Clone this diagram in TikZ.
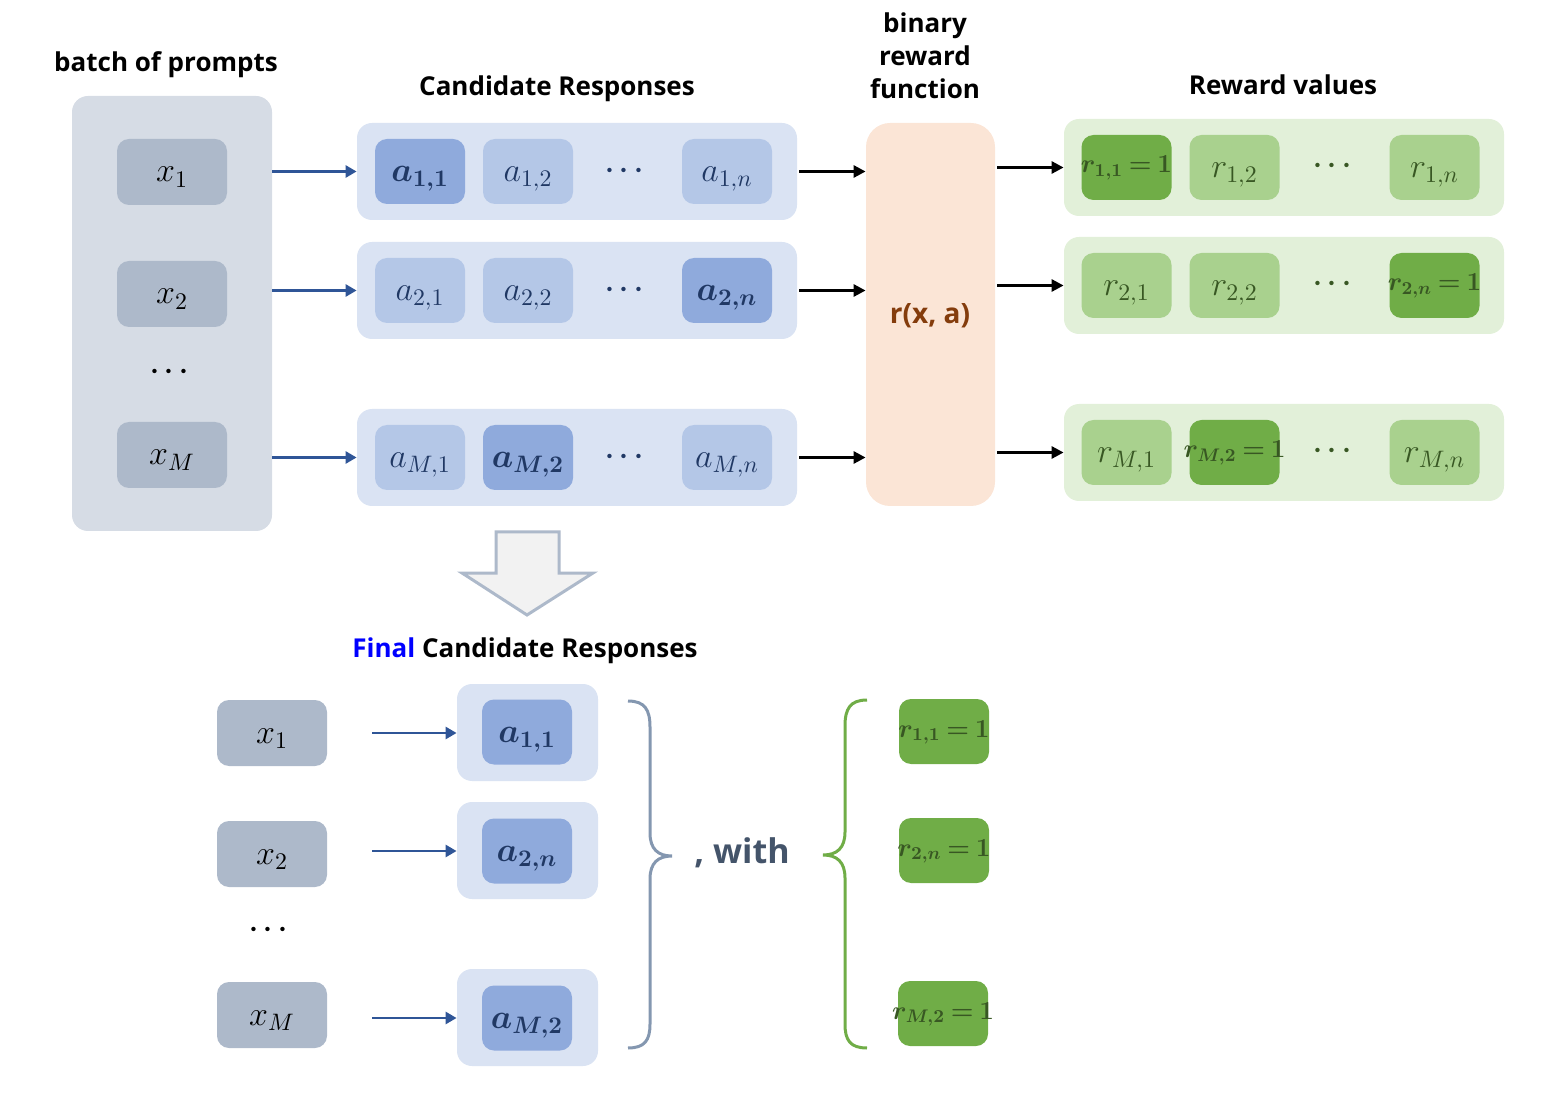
\RequirePackage{fix-cm}
\documentclass[tikz,border=0pt]{standalone}
\usepackage{amsmath,bm}
\usepackage[no-math]{fontspec}
\newfontfamily\labfont{Open Sans}
\usetikzlibrary{arrows.meta}
\definecolor{promptbg}{HTML}{D6DCE5}
\definecolor{xboxc}{HTML}{ADB9CA}
\definecolor{rowbg}{HTML}{DAE3F3}
\definecolor{alight}{HTML}{B4C7E7}
\definecolor{adark}{HTML}{8FAADC}
\definecolor{atext}{HTML}{203864}
\definecolor{rfbg}{HTML}{FBE5D6}
\definecolor{rftext}{HTML}{843C0C}
\definecolor{rrowbg}{HTML}{E2F0D9}
\definecolor{rlight}{HTML}{A9D18E}
\definecolor{rdark}{HTML}{70AD47}
\definecolor{rtext}{HTML}{385723}
\definecolor{arrowblue}{HTML}{2F5597}
\definecolor{bracebl}{HTML}{8497B0}
\definecolor{withtext}{HTML}{44546A}
\definecolor{finalblue}{HTML}{0000FF}
\definecolor{downfill}{HTML}{F2F2F2}
\newcommand{\fit}[1]{\makebox[0pt]{\thickmuskip=4mu #1}}
\begin{document}
\begin{tikzpicture}[x=0.5pt,y=-0.5pt,
  font=\fontsize{17}{20}\selectfont,
  rowbox/.style={rounded corners=7.5pt, minimum width=220pt, minimum height=48.5pt, inner sep=0pt},
  arow/.style={rowbox, fill=rowbg},
  rrow/.style={rowbox, fill=rrowbg},
  cell/.style={rounded corners=6pt, minimum width=45pt, minimum height=32.5pt, inner sep=0pt, text height=10pt, text depth=0pt},
  acell/.style={cell, fill=alight, text=atext},
  abest/.style={cell, fill=adark, text=atext},
  rcell/.style={cell, fill=rlight, text=rtext},
  rbest/.style={cell, fill=rdark, text=rtext, font=\fontsize{13}{16}\selectfont, text height=7.5pt, text depth=2pt},
  xcell/.style={cell, fill=xboxc, minimum width=55pt, minimum height=33pt},
  dotsk/.style={inner sep=0pt, font=\fontsize{14}{15}\selectfont},
  dotsa/.style={dotsk, text=atext},
  dotsr/.style={dotsk, text=rtext},
  title/.style={font=\labfont\bfseries\fontsize{13}{16.5}\selectfont, align=center},
  barrow/.style={draw=arrowblue, line width=1.3pt, -{Triangle[length=5.5pt,width=6pt]}},
  karrow/.style={draw=black, line width=1.4pt, -{Triangle[length=6pt,width=6pt]}},
]
\useasboundingbox (0,0) rectangle (1564,1096);

% ---------- titles ----------
\node[title] (tprompts) at (166,65) {batch of prompts};
\node[title] (tcand) at (557,89) {Candidate Responses};
\node[title] (tbin) at (925,56) {binary\\reward\\function};
\node[title] (trew) at (1283,85) {Reward values};

% ---------- prompts ----------
\node[fill=promptbg, rounded corners=8pt, minimum width=100pt, minimum height=217.5pt, inner sep=0pt] (prompts) at (172,313.5) {};
\node[xcell] (x1) at (172,172) {$x_1$};
\node[xcell] (x2) at (172,294) {$x_2$};
\node[dotsk] (xd) at (172,372) {$\bm{\cdots}$};
\node[xcell] (xM) at (172,455) {$x_M$};

% ---------- candidate rows ----------
\node[arow] (row1) at (577,171.5) {};
\node[arow] (row2) at (577,290.5) {};
\node[arow] (rowM) at (577,457.5) {};

\node[abest] (a11) at (420,171.5) {$\bm{a_{1,1}}$};
\node[acell] (a12) at (528,171.5) {$a_{1,2}$};
\node[dotsa] (ad1) at (627,171) {$\bm{\cdots}$};
\node[acell] (a1n) at (727,171.5) {$a_{1,n}$};

\node[acell] (a21) at (420,290.5) {$a_{2,1}$};
\node[acell] (a22) at (528,290.5) {$a_{2,2}$};
\node[dotsa] (ad2) at (627,290) {$\bm{\cdots}$};
\node[abest] (a2n) at (727,290.5) {$\bm{a_{2,n}}$};

\node[acell] (aM1) at (420,457.5) {$a_{M,1}$};
\node[abest] (aM2) at (528,457.5) {$\bm{a_{M,2}}$};
\node[dotsa] (adM) at (627,457) {$\bm{\cdots}$};
\node[acell] (aMn) at (727,457.5) {$a_{M,n}$};

% ---------- reward function ----------
\node[fill=rfbg, rounded corners=12pt, minimum width=64.5pt, minimum height=191.5pt, inner sep=0pt] (rf) at (930.5,314.5) {};
\node[font=\labfont\bfseries\fontsize{14}{16}\selectfont, text=rftext] (rfl) at (930,316) {r(x, a)};

% ---------- reward rows ----------
\node[rrow] (rr1) at (1284,167.5) {};
\node[rrow] (rr2) at (1284,285.5) {};
\node[rrow] (rrM) at (1284,452.5) {};

\node[rbest] (r11) at (1126.5,167.5) {\fit{$\bm{r_{1,1}=1}$}};
\node[rcell] (r12) at (1234.5,167.5) {$r_{1,2}$};
\node[dotsr] (rd1) at (1335,166) {$\bm{\cdots}$};
\node[rcell] (r1n) at (1434.5,167.5) {$r_{1,n}$};

\node[rcell] (r21) at (1126.5,285.5) {$r_{2,1}$};
\node[rcell] (r22) at (1234.5,285.5) {$r_{2,2}$};
\node[dotsr] (rd2) at (1335,284) {$\bm{\cdots}$};
\node[rbest] (r2n) at (1434.5,285.5) {\fit{$\bm{r_{2,n}=1}$}};

\node[rcell] (rM1) at (1126.5,452.5) {$r_{M,1}$};
\node[rbest] (rM2) at (1234.5,452.5) {\fit{$\bm{r_{M,2}=1}$}};
\node[dotsr] (rdM) at (1335,451) {$\bm{\cdots}$};
\node[rcell] (rMn) at (1434.5,452.5) {$r_{M,n}$};

% ---------- arrows (top) ----------
\draw[barrow] (prompts.east |- row1.west) -- (row1.west);
\draw[barrow] (prompts.east |- row2.west) -- (row2.west);
\draw[barrow] (prompts.east |- rowM.west) -- (rowM.west);
\draw[karrow] ([xshift=1pt]row1.east) -- (rf.west |- row1.east);
\draw[karrow] ([xshift=1pt]row2.east) -- (rf.west |- row2.east);
\draw[karrow] ([xshift=1pt]rowM.east) -- (rf.west |- rowM.east);
\draw[karrow] ([xshift=1pt]rf.east |- rr1.west) -- (rr1.west);
\draw[karrow] ([xshift=1pt]rf.east |- rr2.west) -- (rr2.west);
\draw[karrow] ([xshift=1pt]rf.east |- rrM.west) -- (rrM.west);

% ---------- big down arrow ----------
\draw[draw=xboxc, fill=downfill, line width=1.5pt, line join=miter]
  (496,532) -- (559,532) -- (559,573) -- (593,573) -- (527,615) -- (462,573) -- (496,573) -- cycle;

\node[title] (tfinal) at (525,651) {\textcolor{finalblue}{Final} Candidate Responses};

% ---------- bottom ----------
\node[xcell] (bx1) at (272,733) {$x_1$};
\node[xcell] (bx2) at (272,854) {$x_2$};
\node[dotsk] (bxd) at (271,930) {$\bm{\cdots}$};
\node[xcell] (bxM) at (272,1015) {$x_M$};

\node[fill=rowbg, rounded corners=7.5pt, minimum width=70.5pt, minimum height=48.5pt, inner sep=0pt] (fb1) at (527.5,732.5) {};
\node[fill=rowbg, rounded corners=7.5pt, minimum width=70.5pt, minimum height=48.5pt, inner sep=0pt] (fb2) at (527.5,850.5) {};
\node[fill=rowbg, rounded corners=7.5pt, minimum width=70.5pt, minimum height=48.5pt, inner sep=0pt] (fbM) at (527.5,1017.5) {};
\node[abest] (fa1) at (527,732) {$\bm{a_{1,1}}$};
\node[abest] (fa2) at (527,851) {$\bm{a_{2,n}}$};
\node[abest] (faM) at (527,1018) {$\bm{a_{M,2}}$};

\coordinate (s1) at (372,733);
\coordinate (s2) at (372,851);
\coordinate (sM) at (372,1018);
\draw[barrow] (s1) -- (fb1.west |- s1);
\draw[barrow] (s2) -- (fb2.west |- s2);
\draw[barrow] (sM) -- (fbM.west |- sM);

% braces
\draw[draw=bracebl, line width=1.5pt]
  (628,701) .. controls (645,701) and (650,710) .. (650,727) -- (650,833)
  .. controls (650,849) and (658,856) .. (672,856)
  .. controls (658,856) and (650,863) .. (650,879) -- (650,1024)
  .. controls (650,1040) and (645,1048) .. (628,1048);
\node[font=\labfont\bfseries\fontsize{17}{20}\selectfont, text=withtext] (with) at (742,853) {, with};
\draw[draw=rdark, line width=1.5pt]
  (867,700) .. controls (850,700) and (845,709) .. (845,726) -- (845,832)
  .. controls (845,848) and (837,855) .. (823,855)
  .. controls (837,855) and (845,862) .. (845,878) -- (845,1024)
  .. controls (845,1040) and (850,1048) .. (867,1048);

\node[rbest] (fr1) at (944,731.5) {\fit{$\bm{r_{1,1}=1}$}};
\node[rbest] (fr2) at (944,850.5) {\fit{$\bm{r_{2,n}=1}$}};
\node[rbest] (frM) at (943,1013.5) {\fit{$\bm{r_{M,2}=1}$}};
\end{tikzpicture}
\end{document}
